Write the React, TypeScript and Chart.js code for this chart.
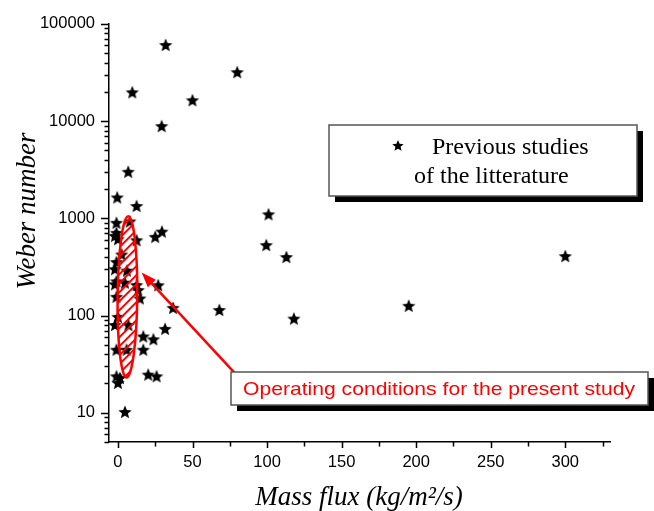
import React, { useEffect, useRef } from 'react';
import { Chart, registerables } from 'chart.js';

Chart.register(...registerables);

// ---- data ----
const massFlux = [
  32, 80, 50, 9.6, 29.3, 6.9,
  -0.5, 12.5, 101, -1, 8,
  -1, -2, 0, 12.5, 25,
  29.5, 99.5, 113, 300,
  -1, -2, 6, 2.5,
  -1, -2, 4.7, 12.5, 27,
  13.6, 14.7, -1,
  37, 68, 195, 118,
  0, -2, 7, 31.6,
  17, 23.8,
  -1, 5.8, 17,
  -1, 0, 1.3, 20.3, 25.9,
  4.7,
];
const weber = [
  60700, 31900, 16400, 19800, 8890, 3010,
  1640, 1340, 1100, 900, 930,
  710, 660, 610, 595, 645,
  730, 530, 400, 409,
  355, 300, 290, 425,
  225, 210, 218, 206, 205,
  183, 150, 156,
  120, 114, 126, 93,
  97, 80, 80, 73,
  61, 57,
  44.5, 44.5, 44.5,
  23.7, 20.3, 22.8, 24.7, 23.7,
  10.2,
];

const xMajorTicks = [0, 50, 100, 150, 200, 250, 300];
const xMinorTicks = [25, 75, 125, 175, 225, 275, 325];
const yDecades = [10, 100, 1000, 10000, 100000];
const yMinorMultipliers = [2, 3, 4, 5, 6, 7, 8, 9];
const yBelowFirstDecade = [5, 6, 7, 8, 9];

// operating-conditions ellipse (data units): top end, bottom end, half width in x
const ellipseEndsX = [6.9, 5.8];
const ellipseEndsY = [1050, 23];
const ellipseHalfWidthX = 6.6;
// arrow from the annotation box to the ellipse (data units)
const arrowX = [78.4, 15.9];
const arrowY = [25.5, 277];

const legendLines = ['Previous studies', 'of the litterature'];
const annotationText = 'Operating conditions for the present study';
const xTitle = 'Mass flux (kg/m\u00B2/s)';
const yTitle = 'Weber number';

function starPath(g: CanvasRenderingContext2D, cx: number, cy: number, outer: number, inner: number) {
  g.beginPath();
  for (let i = 0; i < 10; i++) {
    const r = i % 2 ? inner : outer;
    const a = -Math.PI / 2 + (i * Math.PI) / 5;
    const px = cx + r * Math.cos(a);
    const py = cy + r * Math.sin(a);
    if (i === 0) g.moveTo(px, py);
    else g.lineTo(px, py);
  }
  g.closePath();
}

function makeStar(size: number, outer: number, inner: number) {
  const c = document.createElement('canvas');
  c.width = size;
  c.height = size;
  const g = c.getContext('2d')!;
  starPath(g, size / 2, size / 2 + 0.6, outer, inner);
  g.fillStyle = '#000';
  g.fill();
  return c;
}

const decorPlugin = {
  id: 'decor',
  afterDraw(chart: any) {
    const ctx: CanvasRenderingContext2D = chart.ctx;
    const xs = chart.scales.x;
    const ys = chart.scales.y;
    const area = chart.chartArea;
    ctx.save();

    // tick marks
    ctx.strokeStyle = '#000';
    ctx.lineWidth = 1.5;
    ctx.beginPath();
    const yMinor: number[] = [];
    yBelowFirstDecade.forEach((v) => yMinor.push(v));
    yDecades.slice(0, -1).forEach((d) => yMinorMultipliers.forEach((m) => yMinor.push(d * m)));
    yDecades.forEach((v) => {
      const py = Math.round(ys.getPixelForValue(v)) + 0.5;
      ctx.moveTo(area.left, py);
      ctx.lineTo(area.left - 8, py);
    });
    yMinor.forEach((v) => {
      const py = Math.round(ys.getPixelForValue(v)) + 0.5;
      ctx.moveTo(area.left, py);
      ctx.lineTo(area.left - 4.5, py);
    });
    xMajorTicks.forEach((v) => {
      const px = Math.round(xs.getPixelForValue(v)) + 0.5;
      ctx.moveTo(px, area.bottom);
      ctx.lineTo(px, area.bottom + 6);
    });
    xMinorTicks.forEach((v) => {
      const px = Math.round(xs.getPixelForValue(v)) + 0.5;
      ctx.moveTo(px, area.bottom);
      ctx.lineTo(px, area.bottom + 4.5);
    });
    ctx.stroke();

    // hatched ellipse
    const p1 = { x: xs.getPixelForValue(ellipseEndsX[0]), y: ys.getPixelForValue(ellipseEndsY[0]) };
    const p2 = { x: xs.getPixelForValue(ellipseEndsX[1]), y: ys.getPixelForValue(ellipseEndsY[1]) };
    const cx = (p1.x + p2.x) / 2;
    const cy = (p1.y + p2.y) / 2;
    const semiMajor = Math.hypot(p2.x - p1.x, p2.y - p1.y) / 2;
    const ang = Math.atan2(p2.y - p1.y, p2.x - p1.x);
    const cxVal = (ellipseEndsX[0] + ellipseEndsX[1]) / 2;
    const semiMinor = Math.abs(xs.getPixelForValue(cxVal + ellipseHalfWidthX) - xs.getPixelForValue(cxVal));
    ctx.save();
    ctx.beginPath();
    ctx.ellipse(cx, cy, semiMajor, semiMinor, ang, 0, Math.PI * 2);
    ctx.clip();
    ctx.strokeStyle = '#ff0000';
    ctx.lineWidth = 2;
    ctx.beginPath();
    for (let k = -semiMajor - 40; k <= semiMajor + 40; k += 9) {
      ctx.moveTo(cx - 40, cy + k + 40);
      ctx.lineTo(cx + 40, cy + k - 40);
    }
    ctx.stroke();
    ctx.restore();
    ctx.beginPath();
    ctx.ellipse(cx, cy, semiMajor, semiMinor, ang, 0, Math.PI * 2);
    ctx.strokeStyle = '#ff0000';
    ctx.lineWidth = 2.5;
    ctx.stroke();

    // arrow
    const a0 = { x: xs.getPixelForValue(arrowX[0]), y: ys.getPixelForValue(arrowY[0]) };
    const a1 = { x: xs.getPixelForValue(arrowX[1]), y: ys.getPixelForValue(arrowY[1]) };
    const aa = Math.atan2(a1.y - a0.y, a1.x - a0.x);
    const headLen = 15;
    const headHalf = 5.5;
    const bx = a1.x - headLen * Math.cos(aa);
    const by = a1.y - headLen * Math.sin(aa);
    ctx.beginPath();
    ctx.moveTo(a0.x, a0.y);
    ctx.lineTo(bx + 2 * Math.cos(aa), by + 2 * Math.sin(aa));
    ctx.strokeStyle = '#ff0000';
    ctx.lineWidth = 2.5;
    ctx.stroke();
    ctx.beginPath();
    ctx.moveTo(a1.x, a1.y);
    ctx.lineTo(bx + headHalf * Math.sin(aa), by - headHalf * Math.cos(aa));
    ctx.lineTo(bx - headHalf * Math.sin(aa), by + headHalf * Math.cos(aa));
    ctx.closePath();
    ctx.fillStyle = '#ff0000';
    ctx.fill();

    // legend box
    const lx = 329, ly = 125, lw = 308, lh = 71, sh = 6;
    ctx.fillStyle = '#000';
    ctx.fillRect(lx + sh, ly + sh, lw, lh);
    ctx.fillStyle = '#fff';
    ctx.fillRect(lx, ly, lw, lh);
    ctx.strokeStyle = '#555';
    ctx.lineWidth = 1.5;
    ctx.strokeRect(lx, ly, lw, lh);
    starPath(ctx, 398, 146, 6, 2.7);
    ctx.fillStyle = '#000';
    ctx.fill();
    ctx.font = "24px 'Liberation Serif', 'Times New Roman', serif";
    ctx.textAlign = 'left';
    ctx.textBaseline = 'alphabetic';
    ctx.fillText(legendLines[0], 432, 154);
    ctx.fillText(legendLines[1], 414, 183);

    // annotation box
    const bxl = 231, byt = 372, bw = 417, bh = 33;
    ctx.fillStyle = '#000';
    ctx.fillRect(bxl + sh, byt + sh, bw, bh);
    ctx.fillStyle = '#fff';
    ctx.fillRect(bxl, byt, bw, bh);
    ctx.strokeStyle = '#555';
    ctx.lineWidth = 1.5;
    ctx.strokeRect(bxl, byt, bw, bh);
    ctx.fillStyle = '#ff0000';
    ctx.font = "19px 'Liberation Sans', Arial, sans-serif";
    const tw = ctx.measureText(annotationText).width;
    ctx.save();
    ctx.translate(243, 395);
    ctx.scale(392 / tw, 1);
    ctx.fillText(annotationText, 0, 0);
    ctx.restore();

    // axis titles
    ctx.fillStyle = '#000';
    ctx.font = "italic 27px 'Liberation Serif', 'Times New Roman', serif";
    ctx.textAlign = 'center';
    ctx.textBaseline = 'alphabetic';
    ctx.fillText(xTitle, 359, 505);
    ctx.save();
    ctx.translate(35, 211);
    ctx.rotate(-Math.PI / 2);
    ctx.fillText(yTitle, 0, 0);
    ctx.restore();

    ctx.restore();
  },
};

export default function App() {
  const canvasRef = useRef<HTMLCanvasElement | null>(null);

  useEffect(() => {
    const canvas = canvasRef.current;
    if (!canvas) return;
    const star = makeStar(16, 7, 3.1);
    const yTickValues: number[] = [];
    yBelowFirstDecade.forEach((v) => yTickValues.push(v));
    yDecades.forEach((d, i) => {
      yTickValues.push(d);
      if (i < yDecades.length - 1) yMinorMultipliers.forEach((m) => yTickValues.push(d * m));
    });
    const xTickValues = [...xMajorTicks, ...xMinorTicks].sort((a, b) => a - b);

    const chart = new Chart(canvas, {
      type: 'scatter',
      data: {
        datasets: [
          {
            label: 'Previous studies of the litterature',
            data: massFlux.map((x, i) => ({ x, y: weber[i] })),
            pointStyle: star as any,
            pointRadius: 8,
            backgroundColor: '#000',
            borderColor: '#000',
          },
        ],
      },
      options: {
        animation: false,
        responsive: false,
        devicePixelRatio: 1,
        layout: { padding: { top: 20, right: 44, bottom: 0, left: 0 } },
        plugins: {
          legend: { display: false },
          tooltip: { enabled: false },
        },
        scales: {
          x: {
            type: 'linear',
            min: -6,
            max: 330,
            grid: { display: false, drawTicks: false, tickLength: 0 },
            border: { display: true, color: '#000', width: 1.5 },
            afterBuildTicks: (scale: any) => {
              scale.ticks = xTickValues.map((v) => ({ value: v }));
            },
            afterFit: (scale: any) => {
              scale.height = 69;
            },
            ticks: {
              autoSkip: false,
              maxRotation: 0,
              padding: 11,
              color: '#000',
              font: { family: "'Liberation Sans', Arial, sans-serif", size: 16.5 },
              callback: (v: any) => (xMajorTicks.includes(Number(v)) ? String(v) : ''),
            },
          },
          y: {
            type: 'logarithmic',
            min: 5,
            max: 100000,
            grid: { display: false, drawTicks: false, tickLength: 0 },
            border: { display: true, color: '#000', width: 1.5 },
            afterBuildTicks: (scale: any) => {
              scale.ticks = yTickValues.map((v) => ({ value: v }));
            },
            afterFit: (scale: any) => {
              scale.width = 109;
            },
            ticks: {
              autoSkip: false,
              padding: 14,
              color: '#000',
              font: { family: "'Liberation Sans', Arial, sans-serif", size: 16.5 },
              callback: (v: any) => (yDecades.includes(Number(v)) ? String(v) : ''),
            },
          },
        },
      },
      plugins: [decorPlugin],
    });
    return () => chart.destroy();
  }, []);

  return (
    <div style={{ position: 'absolute', left: 0, top: 0, width: 654, height: 511, background: '#fff' }}>
      <canvas ref={canvasRef} width={654} height={511} style={{ display: 'block', width: 654, height: 511 }} />
    </div>
  );
}
